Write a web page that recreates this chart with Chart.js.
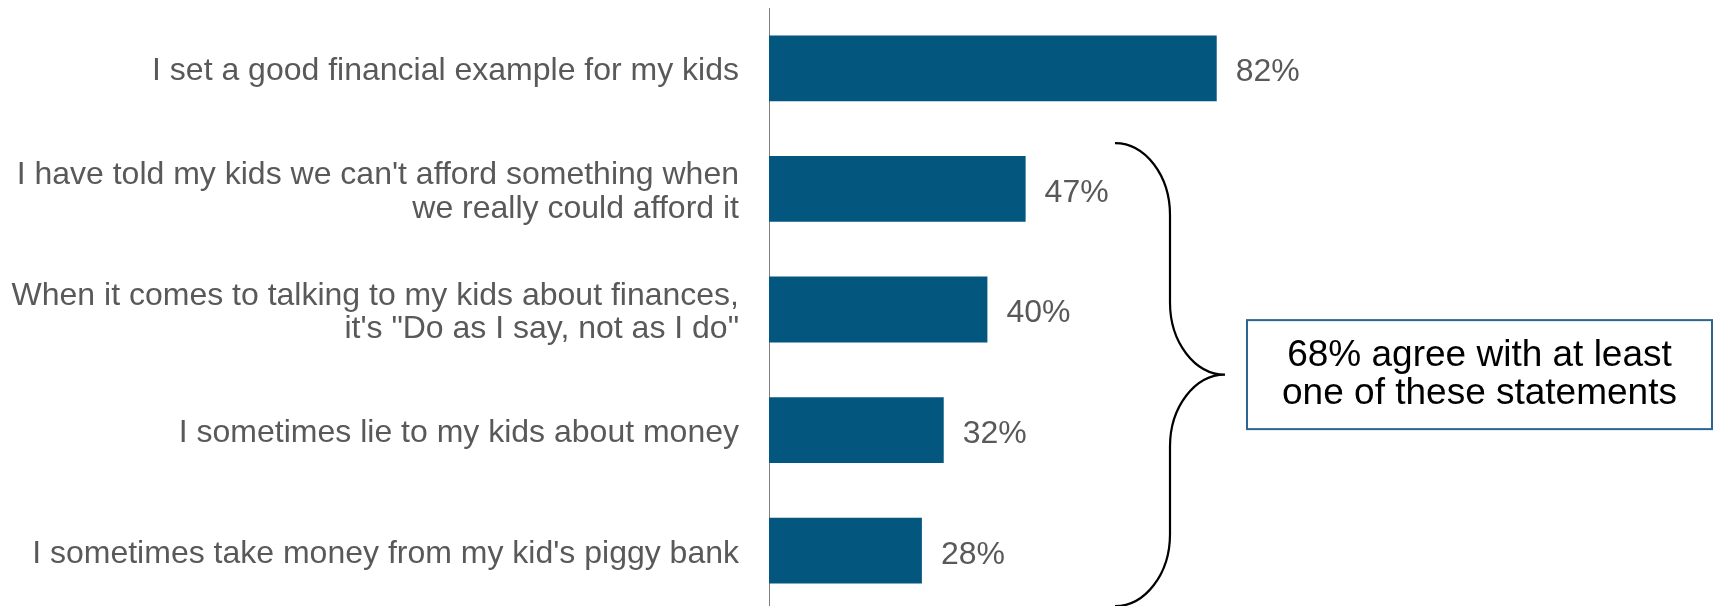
<!DOCTYPE html>
<html>
<head>
<meta charset="utf-8">
<script src="https://cdn.jsdelivr.net/npm/chart.js@4"></script>
<style>
  html, body { margin: 0; padding: 0; background: #fff; overflow: hidden; }
  .chart-wrap { position: relative; width: 1716px; height: 611px; }
</style>
</head>
<body>
<div class="chart-wrap"><canvas id="agreeChart"></canvas></div>
<script>
// =================== DATA ===================
const statements = [
  "I set a good financial example for my kids",
  ["I have told my kids we can't afford something when", "we really could afford it"],
  ["When it comes to talking to my kids about finances,", "it's \"Do as I say, not as I do\""],
  "I sometimes lie to my kids about money",
  "I sometimes take money from my kid's piggy bank",
];
const agreePct = [82, 47, 40, 32, 28];
const calloutLines = ["68% agree with at least", "one of these statements"];
const bracedRange = [1, 4]; // first and last statement under the brace

// =================== STYLE ===================
const FONT = "'Liberation Sans', Arial, sans-serif";
const BAR_COLOR = "#03567e";
const TEXT_GRAY = "#595959";

// =================== PLUGINS ===================
// percentage printed just past the end of each bar
const valueLabels = {
  id: "valueLabels",
  afterDatasetsDraw(chart) {
    const ctx = chart.ctx;
    const meta = chart.getDatasetMeta(0);
    ctx.save();
    ctx.font = `32px ${FONT}`;
    ctx.fillStyle = TEXT_GRAY;
    ctx.textAlign = "left";
    ctx.textBaseline = "middle";
    meta.data.forEach((bar, i) => {
      ctx.fillText(`${agreePct[i]}%`, bar.x + 19, bar.y + 4);
    });
    ctx.restore();
  },
};

// curly brace grouping the lower statements + the summary box
const braceCallout = {
  id: "braceCallout",
  afterDraw(chart) {
    const ctx = chart.ctx;
    const y = chart.scales.y;
    const pitch = y.getPixelForValue(1) - y.getPixelForValue(0);
    const yTop = y.getPixelForValue(bracedRange[0]) - pitch * 0.38;
    const yBot = y.getPixelForValue(bracedRange[1]) + pitch * 0.46;
    const yMid = (yTop + yBot) / 2;

    const xEnd = 1115, xSpine = 1170, xTip = 1225;
    const r = 72, k = 0.55;

    ctx.save();
    ctx.strokeStyle = "#000";
    ctx.lineWidth = 2.2;
    ctx.beginPath();
    ctx.moveTo(xEnd, yTop);
    ctx.bezierCurveTo(xEnd + k * (xSpine - xEnd), yTop, xSpine, yTop + r - k * r, xSpine, yTop + r);
    ctx.lineTo(xSpine, yMid - r);
    ctx.bezierCurveTo(xSpine, yMid - r + k * r, xTip - k * (xTip - xSpine), yMid, xTip, yMid);
    ctx.bezierCurveTo(xTip - k * (xTip - xSpine), yMid, xSpine, yMid + r - k * r, xSpine, yMid + r);
    ctx.lineTo(xSpine, yBot - r);
    ctx.bezierCurveTo(xSpine, yBot - r + k * r, xEnd + k * (xSpine - xEnd), yBot, xEnd, yBot);
    ctx.stroke();

    // summary box
    const boxL = 1247, boxW = 465, boxH = 109;
    ctx.strokeStyle = "#2b6591";
    ctx.lineWidth = 2;
    ctx.strokeRect(boxL, yMid - boxH / 2, boxW, boxH);

    ctx.fillStyle = "#000";
    ctx.font = `37px ${FONT}`;
    ctx.textAlign = "center";
    ctx.textBaseline = "middle";
    const cx = boxL + boxW / 2;
    ctx.fillText(calloutLines[0], cx, yMid - 19);
    ctx.fillText(calloutLines[1], cx, yMid + 19);
    ctx.restore();
  },
};

// =================== CHART ===================
const ctx = document.getElementById("agreeChart");
const chart = new Chart(ctx, {
  type: "bar",
  data: {
    labels: statements,
    datasets: [
      {
        data: agreePct,
        backgroundColor: BAR_COLOR,
        borderWidth: 0,
        categoryPercentage: 1,
        barPercentage: 0.546,
      },
    ],
  },
  options: {
    indexAxis: "y",
    responsive: true,
    maintainAspectRatio: false,
    animation: false,
    layout: { padding: { top: 8, right: 401, bottom: 0, left: 0 } },
    plugins: {
      legend: { display: false },
      tooltip: { enabled: false },
    },
    scales: {
      x: {
        display: false,
        min: 0,
        max: 100,
      },
      y: {
        grid: { display: true, color: "transparent", drawTicks: false },
        border: { display: true, color: "#7f7f7f", width: 1 },
        ticks: {
          padding: 30,
          labelOffset: 3,
          color: TEXT_GRAY,
          font: { family: FONT, size: 32, lineHeight: 1.05 },
        },
        afterFit(scale) {
          // fixed label column, and no extra room reserved above/below
          scale.width = 769;
          scale.paddingTop = 0;
          scale.paddingBottom = 0;
        },
      },
    },
  },
  plugins: [valueLabels, braceCallout],
});
</script>
</body>
</html>
